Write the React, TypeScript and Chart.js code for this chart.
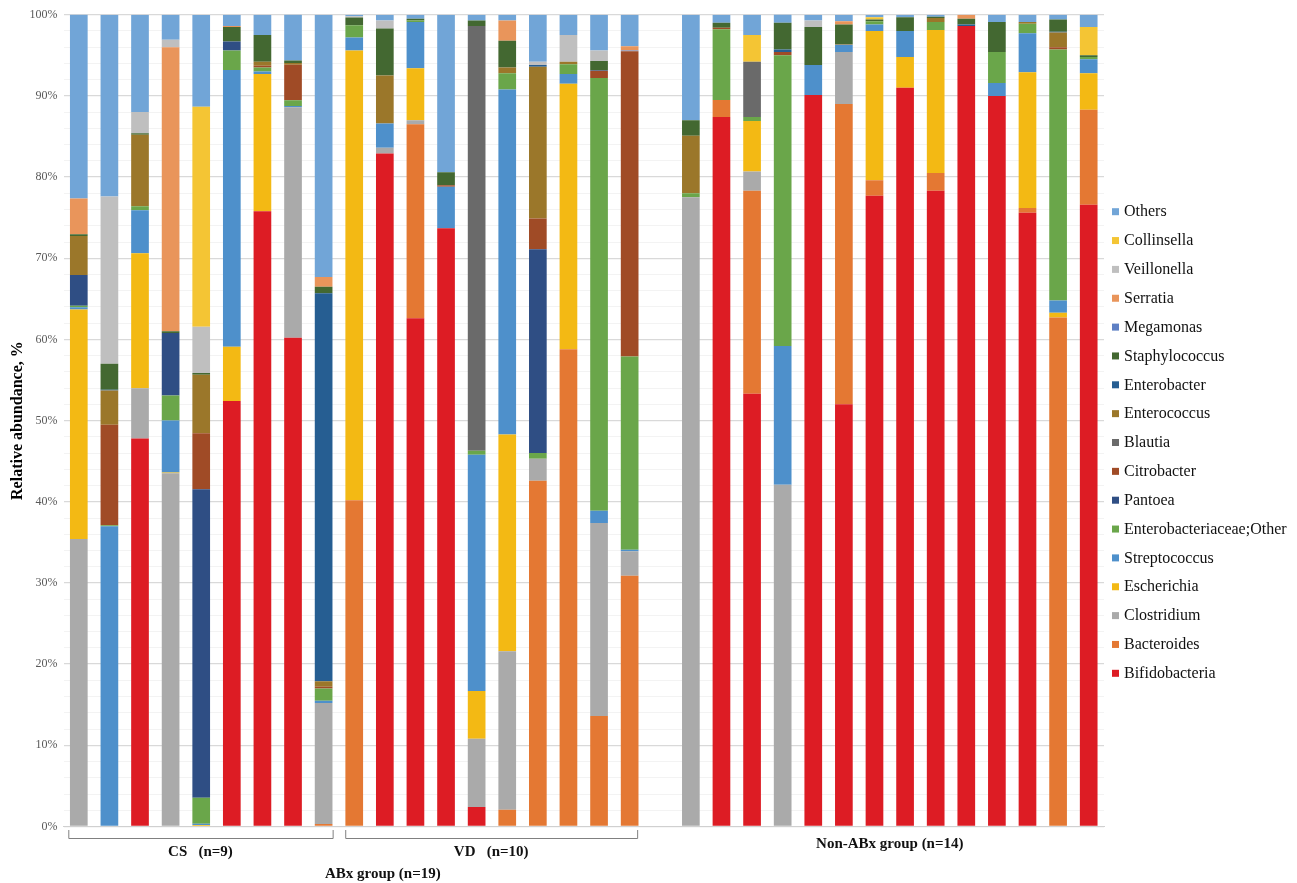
import React, { useEffect, useRef } from 'react';
import { Chart, registerables } from 'chart.js';

Chart.register(...registerables);

// 34 slots: CS (9), VD (10), empty gap, Non-ABx (14)
const categories = [
  'CS1', 'CS2', 'CS3', 'CS4', 'CS5', 'CS6', 'CS7', 'CS8', 'CS9',
  'VD1', 'VD2', 'VD3', 'VD4', 'VD5', 'VD6', 'VD7', 'VD8', 'VD9', 'VD10',
  '',
  'N1', 'N2', 'N3', 'N4', 'N5', 'N6', 'N7', 'N8', 'N9', 'N10', 'N11', 'N12', 'N13', 'N14',
];

const yTicks = [0, 10, 20, 30, 40, 50, 60, 70, 80, 90, 100];

const groupLabels = ['CS   (n=9)', 'VD   (n=10)', 'ABx group (n=19)', 'Non-ABx group (n=14)'];

// stacked bottom -> top
const bifidobacteria = [0, 0, 47.8, 0, 0, 52.4, 75.8, 60.2, 0, 0, 82.9, 62.6, 73.7, 2.4, 0, 0, 0, 0, 0, 0, 0, 87.4, 53.3, 0, 90.1, 52.0, 77.7, 91.0, 78.3, 98.6, 90.0, 75.6, 0, 76.6];
const bacteroides = [0, 0, 0, 0, 0, 0, 0, 0, 0.3, 40.2, 0, 23.9, 0, 0, 2.05, 42.6, 58.8, 13.6, 30.9, 0, 0, 2.1, 25.0, 0, 0, 37.0, 1.9, 0, 2.2, 0, 0, 0.6, 62.7, 11.7];
const clostridium = [35.4, 0, 6.2, 43.5, 0, 0, 0, 28.4, 14.9, 0, 0.7, 0.5, 0, 8.4, 19.55, 2.7, 0, 23.8, 3.0, 0, 77.5, 0, 2.4, 42.1, 0, 6.4, 0, 0, 0, 0, 0, 0, 0, 0];
const escherichia = [28.3, 0, 16.6, 0.1, 0.2, 6.7, 16.9, 0, 0, 55.4, 0, 6.4, 0, 5.9, 26.7, 0, 32.7, 0, 0, 0, 0, 0, 6.2, 0, 0, 0, 18.4, 3.8, 17.6, 0, 0, 16.7, 0.6, 4.5];
const streptococcus = [0.25, 37.0, 5.3, 6.4, 0.15, 34.1, 0.3, 0.15, 0.3, 1.6, 3.0, 5.7, 5.1, 29.1, 42.5, 0, 1.2, 1.5, 0.2, 0, 0, 0, 0, 17.1, 3.7, 0.9, 0.8, 3.2, 0, 0, 1.6, 4.8, 1.5, 1.7];
const enterobacteriaceaeOther = [0.2, 0.1, 0.5, 3.1, 3.2, 2.4, 0.5, 0.7, 1.5, 1.5, 0, 0.2, 0, 0.5, 2.0, 0.7, 1.2, 53.3, 23.8, 0, 0.5, 8.7, 0.5, 35.8, 0, 0, 0.4, 0, 1.0, 0, 3.8, 1.2, 30.9, 0.3];
const pantoea = [3.8, 0, 0, 7.7, 38.0, 1.1, 0, 0, 0, 0, 0, 0, 0, 0, 0, 25.1, 0, 0, 0, 0, 0, 0, 0, 0, 0, 0, 0, 0, 0, 0, 0, 0, 0, 0];
const citrobacter = [0, 12.4, 0, 0, 6.9, 0, 0.2, 4.4, 0.2, 0, 0, 0, 0.2, 0, 0, 3.8, 0, 0.9, 37.6, 0, 0, 0.2, 0, 0.4, 0, 0, 0, 0, 0, 0, 0, 0, 0.3, 0];
const blautia = [0, 0, 0, 0, 0, 0, 0, 0, 0, 0, 0, 0, 0, 52.3, 0, 0, 0, 0, 0, 0, 0, 0, 6.8, 0, 0, 0, 0, 0, 0, 0, 0, 0, 0, 0];
const enterococcus = [4.8, 4.2, 8.8, 0, 7.2, 0, 0.5, 0.2, 0.7, 0, 5.9, 0, 0, 0, 0.7, 18.7, 0.3, 0, 0, 0, 7.1, 0, 0, 0, 0, 0.1, 0, 0, 0.5, 0, 0, 0.2, 1.8, 0];
const enterobacter = [0, 0.1, 0, 0, 0, 0, 0, 0, 47.8, 0, 0, 0, 0, 0, 0, 0.2, 0, 0.1, 0, 0, 0, 0, 0, 0.3, 0, 0, 0, 0, 0, 0.2, 0, 0, 0.1, 0];
const staphylococcus = [0.2, 3.2, 0.2, 0.2, 0.2, 1.8, 3.3, 0.3, 0.8, 0.95, 5.8, 0.2, 1.6, 0.7, 3.3, 0, 0, 1.1, 0, 0, 1.9, 0.6, 0, 3.3, 4.7, 2.4, 0.2, 1.7, 0.15, 0.7, 3.7, 0, 1.5, 0.2];
const megamonas = [0, 0, 0, 0, 0, 0, 0, 0, 0, 0, 0, 0, 0, 0, 0, 0, 0, 0, 0.1, 0, 0, 0, 0, 0, 0, 0, 0, 0, 0, 0, 0, 0, 0, 0];
const serratia = [4.4, 0, 0, 35.0, 0, 0.1, 0, 0, 1.2, 0, 0, 0, 0, 0, 2.5, 0, 0, 0, 0.5, 0, 0, 0, 0, 0, 0, 0.4, 0, 0, 0, 0.5, 0, 0, 0, 0];
const veillonella = [0, 20.6, 2.6, 0.9, 5.7, 0, 0, 0, 0, 0.15, 1.0, 0, 0, 0, 0, 0.4, 3.3, 1.3, 0, 0, 0, 0, 0, 0, 0.8, 0, 0, 0, 0, 0, 0, 0, 0, 0];
const collinsella = [0, 0, 0, 0, 27.1, 0, 0, 0, 0, 0, 0, 0, 0, 0, 0, 0, 0, 0, 0, 0, 0, 0, 3.3, 0, 0, 0, 0.3, 0, 0, 0, 0, 0, 0, 3.5];
const others = [22.7, 22.4, 12.0, 3.1, 11.3, 1.4, 2.5, 5.7, 32.3, 0.2, 0.7, 0.5, 19.4, 0.7, 0.7, 5.8, 2.5, 4.4, 3.9, 0, 13.0, 1.0, 2.5, 1.1, 0.7, 0.8, 0.3, 0.3, 0.25, 0, 0.9, 0.9, 0.6, 1.5];

const seriesNames = [
  'Bifidobacteria', 'Bacteroides', 'Clostridium', 'Escherichia', 'Streptococcus',
  'Enterobacteriaceae;Other', 'Pantoea', 'Citrobacter', 'Blautia', 'Enterococcus',
  'Enterobacter', 'Staphylococcus', 'Megamonas', 'Serratia', 'Veillonella', 'Collinsella', 'Others',
];
const seriesValues = [
  bifidobacteria, bacteroides, clostridium, escherichia, streptococcus,
  enterobacteriaceaeOther, pantoea, citrobacter, blautia, enterococcus,
  enterobacter, staphylococcus, megamonas, serratia, veillonella, collinsella, others,
];
const seriesColors = [
  '#DD1C24', '#E47833', '#AAAAAA', '#F3B914', '#4E90CB',
  '#6AA64A', '#2F4E84', '#A04B26', '#6A6A6A', '#9B772A',
  '#265E92', '#436831', '#5E80C4', '#E9955B', '#BFBFBF', '#F4C534', '#71A5D7',
];

const SERIF = "'Liberation Serif', 'Times New Roman', serif";

const overlayPlugin = {
  id: 'overlay',
  afterDraw(chart: any) {
    const ctx = chart.ctx;
    const x = chart.scales.x;
    ctx.save();
    // legend (reverse order: Others on top)
    ctx.font = `16px ${SERIF}`;
    ctx.textBaseline = 'middle';
    ctx.textAlign = 'left';
    const n = seriesNames.length;
    for (let i = 0; i < n; i++) {
      const idx = n - 1 - i;
      const yy = 211.7 + i * 28.85;
      ctx.fillStyle = seriesColors[idx];
      ctx.fillRect(1112, yy - 3.5, 7, 7);
      ctx.fillStyle = '#111';
      ctx.fillText(seriesNames[idx], 1124, yy + 0.5);
    }
    // brackets
    const p = (i: number) => x.getPixelForValue(i);
    ctx.strokeStyle = '#808080';
    ctx.lineWidth = 1;
    const bracket = (x1: number, x2: number) => {
      ctx.beginPath();
      ctx.moveTo(x1 + 0.5, 830);
      ctx.lineTo(x1 + 0.5, 838.5);
      ctx.lineTo(x2 + 0.5, 838.5);
      ctx.lineTo(x2 + 0.5, 830);
      ctx.stroke();
    };
    const cs1 = p(0) - 10.5, cs2 = p(8) + 9;
    const vd1 = p(9) - 9, vd2 = p(18) + 7.5;
    bracket(cs1, cs2);
    bracket(vd1, vd2);
    ctx.fillStyle = '#111';
    ctx.font = `bold 15px ${SERIF}`;
    ctx.textAlign = 'center';
    ctx.fillText(groupLabels[0], (cs1 + cs2) / 2, 852);
    ctx.fillText(groupLabels[1], (vd1 + vd2) / 2, 852);
    ctx.fillText(groupLabels[2], p(10) - 2, 874);
    ctx.fillText(groupLabels[3], (p(20) + p(33)) / 2, 844);
    ctx.restore();
  },
};

export default function App() {
  const ref = useRef<HTMLCanvasElement | null>(null);
  useEffect(() => {
    if (!ref.current) return;
    const chart = new Chart(ref.current, {
      type: 'bar',
      data: {
        labels: categories,
        datasets: seriesNames.map((name, i) => ({
          label: name,
          data: seriesValues[i],
          backgroundColor: seriesColors[i],
          borderWidth: 0,
          barPercentage: 0.578,
          categoryPercentage: 1,
        })),
      },
      options: {
        animation: false,
        responsive: true,
        maintainAspectRatio: false,
        layout: { padding: { left: 0, right: 193, top: 14.7, bottom: 0 } },
        plugins: { legend: { display: false }, tooltip: { enabled: false } },
        scales: {
          x: {
            stacked: true,
            ticks: { display: false },
            grid: { display: false },
            border: { display: true, color: '#d0d0d0', width: 1 },
            afterFit: (s: any) => { s.height = 56.5; },
          },
          y: {
            stacked: true,
            min: 0,
            max: 100,
            ticks: {
              stepSize: 2,
              autoSkip: false,
              padding: 6,
              color: '#595959',
              font: { family: SERIF, size: 12 },
              callback: (v: any) => (yTicks.includes(Number(v)) ? `${v}%` : ''),
            },
            grid: {
              drawTicks: false,
              color: (c: any) => (yTicks.includes(c.tick?.value) ? '#d9d9d9' : '#f3f3f3'),
              lineWidth: (c: any) => (yTicks.includes(c.tick?.value) ? 1.3 : 1),
            },
            border: { display: false },
            title: {
              display: true,
              text: 'Relative abundance, %',
              color: '#000',
              font: { family: SERIF, size: 16, weight: 'bold' },
              padding: { top: 8, bottom: 0 },
            },
            afterFit: (s: any) => { s.width = 63.5; },
          },
        },
      },
      plugins: [overlayPlugin],
    });
    return () => chart.destroy();
  }, []);
  return (
    <div style={{ position: 'absolute', left: 0, top: 0, width: 1297, height: 883, background: '#fff' }}>
      <canvas ref={ref} />
    </div>
  );
}
